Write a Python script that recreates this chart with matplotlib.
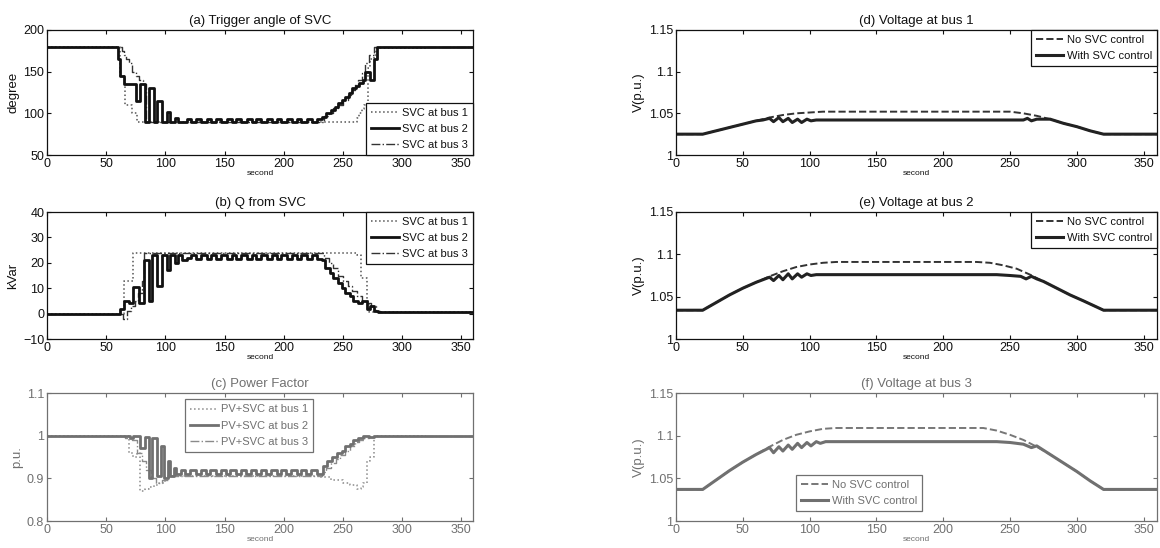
import matplotlib
matplotlib.use("Agg")
import matplotlib.pyplot as plt

plt.rcParams['font.family'] = ['Liberation Sans', 'DejaVu Sans']

# ---------------- data ----------------
# (a) Trigger angle of SVC (degree), step data
a_bus1_t = [0, 62, 66, 72, 76, 262, 264, 266, 268, 271, 273, 276, 278, 320]
a_bus1_v = [180, 145, 110, 100, 90, 95, 100, 105, 110, 155, 165, 170, 178, 178]
a_bus2_t = [0, 60, 62, 65, 75, 79, 83, 86, 90, 93, 97, 101, 104, 108, 111, 118, 122, 126, 130, 135,
            139, 143, 147, 152, 156, 160, 164, 169, 173, 177, 181, 186, 190, 194, 198, 203, 207, 211, 215, 220,
            224, 228, 232, 236, 240, 243, 246, 249, 252, 255, 258, 261, 264, 267, 269, 273, 276, 279, 360]
a_bus2_v = [180, 165, 145, 135, 115, 135, 90, 130, 90, 115, 90, 102, 90, 95, 90, 93, 90, 93, 90, 93,
            90, 93, 90, 93, 90, 93, 90, 93, 90, 93, 90, 93, 90, 93, 90, 93, 90, 93, 90, 93,
            90, 93, 96, 100, 104, 108, 112, 116, 120, 125, 130, 133, 137, 140, 150, 140, 165, 180, 180]
a_bus3_t = [0, 63, 65, 67, 69, 72, 75, 78, 81, 84, 234, 238, 242, 246, 250, 254, 257, 260, 263, 266, 269, 272, 276, 360]
a_bus3_v = [180, 175, 170, 165, 160, 150, 145, 140, 135, 90, 97, 101, 106, 110, 116, 122, 128, 134, 140, 148, 160, 170, 180, 180]

# (b) Q from SVC (kVar)
b_bus1_t = [0, 65, 73, 262, 265, 270, 272, 360]
b_bus1_v = [0, 13, 24, 23, 14, 5, 0.5, 0.5]
b_bus2_t = [0, 62, 65, 69, 73, 78, 82, 86, 89, 93, 97, 101, 104, 108, 111, 114, 118, 122, 126, 130,
            135, 139, 143, 147, 152, 156, 160, 164, 169, 173, 177, 181, 186, 190, 194, 198, 203, 207, 211, 215,
            220, 224, 228, 232, 235, 239, 242, 246, 249, 252, 256, 259, 263, 266, 270, 273, 276, 280, 360]
b_bus2_v = [0, 2, 5, 4, 10.5, 4, 21, 5, 23, 11, 23, 17, 23, 20, 23, 21, 22, 23, 21.5, 23,
            21.5, 23, 21.5, 23, 21.5, 23, 21.5, 23, 21.5, 23, 21.5, 23, 21.5, 23, 21.5, 23, 21.5, 23, 21.5, 23,
            21.5, 23, 21.5, 21, 18, 16, 14, 12, 10, 8, 7, 5, 4, 5, 2, 3, 1, 0.5, 0.5]
b_bus3_t = [0, 64, 68, 71, 74, 77, 80, 82, 234, 238, 242, 246, 250, 254, 258, 262, 266, 270, 274, 278, 281, 360]
b_bus3_v = [0, -2, 1, 3, 5, 8, 13, 24, 22, 20, 18, 15, 13, 11, 9, 7, 5, 4, 3, 1, 0.5, 0.5]

# (c) Power factor (p.u.)
c_bus1_t = [0, 69, 73, 76, 79, 83, 86, 90, 95, 100, 230, 240, 250, 256, 262, 265, 267, 270, 273, 276, 320]
c_bus1_v = [1.0, 0.96, 0.95, 0.96, 0.87, 0.875, 0.88, 0.885, 0.89, 0.905, 0.903, 0.897, 0.89, 0.884, 0.876,
            0.88, 0.89, 0.94, 0.95, 1.0, 1.0]
c_bus2_t = [0, 70, 73, 79, 83, 86, 89, 93, 96, 99, 102, 104, 107, 109, 113, 117, 121, 126, 130, 134,
            138, 143, 147, 151, 155, 160, 164, 168, 172, 177, 181, 185, 189, 194, 198, 202, 206, 211, 215, 219,
            223, 228, 233, 237, 241, 245, 249, 252, 256, 259, 263, 267, 272, 276, 280, 360]
c_bus2_v = [1.0, 0.995, 1.0, 0.97, 0.998, 0.90, 0.995, 0.905, 0.975, 0.90, 0.94, 0.905, 0.925, 0.91, 0.92, 0.91, 0.92, 0.91, 0.92, 0.91,
            0.92, 0.91, 0.92, 0.91, 0.92, 0.91, 0.92, 0.91, 0.92, 0.91, 0.92, 0.91, 0.92, 0.91, 0.92, 0.91, 0.92, 0.91, 0.92, 0.91,
            0.92, 0.91, 0.93, 0.94, 0.95, 0.96, 0.965, 0.975, 0.98, 0.99, 0.995, 1.0, 0.997, 1.0, 1.0, 1.0]
c_bus3_t = [0, 66, 72, 76, 80, 84, 88, 92, 97, 102, 232, 236, 240, 244, 248, 252, 256, 260, 264, 268, 272, 276, 360]
c_bus3_v = [1.0, 0.995, 0.99, 0.96, 0.94, 0.92, 0.90, 0.89, 0.895, 0.905, 0.915, 0.925, 0.935, 0.945, 0.955,
            0.965, 0.975, 0.985, 0.99, 0.995, 0.998, 1.0, 1.0]

# (d) Voltage at bus 1
d_no_t = [0, 20, 30, 40, 50, 60, 70, 80, 90, 100, 110, 250, 260, 270, 280, 290, 300, 310, 320, 360]
d_no_v = [1.025, 1.025, 1.029, 1.033, 1.037, 1.041, 1.045, 1.048, 1.050, 1.051, 1.052, 1.052, 1.050, 1.047,
          1.043, 1.038, 1.034, 1.029, 1.025, 1.025]
d_svc_t = [0, 20, 30, 40, 50, 60, 65, 70, 73, 77, 80, 84, 87, 91, 94, 98, 101, 105, 260, 263, 266, 270,
           280, 290, 300, 310, 320, 360]
d_svc_v = [1.025, 1.025, 1.029, 1.033, 1.037, 1.041, 1.042, 1.044, 1.040, 1.045, 1.040, 1.044, 1.039, 1.043,
           1.039, 1.043, 1.041, 1.042, 1.042, 1.044, 1.041, 1.043, 1.043, 1.038, 1.034, 1.029, 1.025, 1.025]

# (e) Voltage at bus 2
e_no_t = [0, 20, 30, 40, 50, 60, 70, 80, 90, 100, 110, 120, 225, 235, 245, 255, 265, 275, 285, 295, 305, 320, 360]
e_no_v = [1.034, 1.034, 1.043, 1.052, 1.060, 1.067, 1.074, 1.080, 1.085, 1.088, 1.090, 1.091, 1.091, 1.090,
          1.087, 1.083, 1.076, 1.068, 1.060, 1.052, 1.045, 1.034, 1.034]
e_svc_t = [0, 20, 30, 40, 50, 60, 65, 70, 73, 77, 80, 84, 87, 91, 94, 98, 101, 105, 240, 250, 258, 262, 266,
           270, 275, 285, 295, 305, 320, 360]
e_svc_v = [1.034, 1.034, 1.043, 1.052, 1.060, 1.067, 1.070, 1.073, 1.069, 1.075, 1.070, 1.077, 1.071, 1.077,
           1.073, 1.077, 1.075, 1.076, 1.076, 1.075, 1.074, 1.071, 1.074, 1.071, 1.068, 1.060, 1.052, 1.045,
           1.034, 1.034]

# (f) Voltage at bus 3
f_no_t = [0, 20, 30, 40, 50, 60, 70, 80, 90, 100, 110, 120, 230, 240, 250, 260, 270, 280, 290, 300, 310, 320, 360]
f_no_v = [1.037, 1.037, 1.048, 1.059, 1.069, 1.078, 1.087, 1.095, 1.101, 1.105, 1.108, 1.109, 1.109, 1.106,
          1.101, 1.095, 1.087, 1.078, 1.068, 1.058, 1.047, 1.037, 1.037]
f_svc_t = [0, 20, 30, 40, 50, 60, 65, 70, 73, 77, 80, 84, 87, 91, 94, 98, 101, 105, 108, 112, 240, 250, 260,
           266, 270, 275, 280, 290, 300, 310, 320, 360]
f_svc_v = [1.037, 1.037, 1.048, 1.059, 1.069, 1.078, 1.082, 1.086, 1.080, 1.087, 1.082, 1.089, 1.084, 1.091,
           1.086, 1.092, 1.088, 1.093, 1.091, 1.093, 1.093, 1.092, 1.090, 1.086, 1.088, 1.083, 1.078, 1.068,
           1.058, 1.047, 1.037, 1.037]

x_ticks = [0, 50, 100, 150, 200, 250, 300, 350]
a_yticks = [50, 100, 150, 200]
b_yticks = [-10, 0, 10, 20, 30, 40]
c_yticks = [0.8, 0.9, 1.0, 1.1]
c_ylabels = ['0.8', '0.9', '1', '1.1']
v_yticks = [1.0, 1.05, 1.1, 1.15]
v_ylabels = ['1', '1.05', '1.1', '1.15']

svc_labels = ['SVC at bus 1', 'SVC at bus 2', 'SVC at bus 3']
pf_labels = ['PV+SVC at bus 1', 'PV+SVC at bus 2', 'PV+SVC at bus 3']
v_labels = ['No SVC control', 'With SVC control']

# ---------------- figure ----------------
W, H = 1160, 548
fig = plt.figure(figsize=(W / 100, H / 100), dpi=100)


def ax_at(x0, y0, x1, y1):
    return fig.add_axes([x0 / W, 1 - y1 / H, (x1 - x0) / W, (y1 - y0) / H])


def style(ax, col, title, ylabel, yticks, ylabels=None):
    ax.set_xlim(0, 360)
    ax.set_xticks(x_ticks)
    ax.set_yticks(yticks)
    if ylabels is not None:
        ax.set_yticklabels(ylabels)
    ax.set_ylim(yticks[0], yticks[-1])
    ax.tick_params(direction='in', top=True, right=True, length=3, width=0.8,
                   labelsize=9, colors=col, pad=2)
    for s in ax.spines.values():
        s.set_color(col)
        s.set_linewidth(0.9)
    ax.set_title(title, fontsize=9.5, color=col, pad=4)
    ax.set_ylabel(ylabel, fontsize=9.5, color=col, labelpad=3)
    ax.set_xlabel('second', fontsize=6, color=col, labelpad=0)


def legend(ax, handles, labels, col, **kw):
    lg = ax.legend(handles, labels, fontsize=8, frameon=True, fancybox=False,
                   edgecolor=col, framealpha=1, handlelength=2.5, handletextpad=0.3,
                   borderpad=0.45, labelspacing=0.55, **kw)
    lg.get_frame().set_linewidth(0.9)
    for t in lg.get_texts():
        t.set_color(col)
    return lg


black = '#111111'
gray = '#707070'

# (a)
ax = ax_at(47, 30, 473, 155)
h1, = ax.step(a_bus1_t, a_bus1_v, where='post', color='#555555', lw=1.1, ls=':')
h3, = ax.step(a_bus3_t, a_bus3_v, where='post', color='#333333', lw=1.0, ls='-.')
h2, = ax.step(a_bus2_t, a_bus2_v, where='post', color=black, lw=2.0)
style(ax, black, '(a) Trigger angle of SVC', 'degree', a_yticks)
legend(ax, [h1, h2, h3], svc_labels, black, loc='lower right', borderaxespad=0)

# (b)
ax = ax_at(47, 212, 473, 339)
h1, = ax.step(b_bus1_t, b_bus1_v, where='post', color='#555555', lw=1.1, ls=':')
h3, = ax.step(b_bus3_t, b_bus3_v, where='post', color='#333333', lw=1.0, ls='-.')
h2, = ax.step(b_bus2_t, b_bus2_v, where='post', color=black, lw=2.0)
style(ax, black, '(b) Q from SVC', 'kVar', b_yticks)
legend(ax, [h1, h2, h3], svc_labels, black, loc='upper right', borderaxespad=0)

# (c)
ax = ax_at(47, 393, 473, 521)
h1, = ax.step(c_bus1_t, c_bus1_v, where='post', color='#8a8a8a', lw=1.1, ls=':')
h3, = ax.step(c_bus3_t, c_bus3_v, where='post', color='#8a8a8a', lw=1.0, ls='-.')
h2, = ax.step(c_bus2_t, c_bus2_v, where='post', color=gray, lw=2.0)
style(ax, gray, '(c) Power Factor', 'p.u.', c_yticks, c_ylabels)
legend(ax, [h1, h2, h3], pf_labels, gray, loc='upper center',
       bbox_to_anchor=(0.475, 0.95), borderaxespad=0)

# (d)
ax = ax_at(676, 30, 1157, 155)
hn, = ax.plot(d_no_t, d_no_v, color='#333333', lw=1.4, ls='--')
hs, = ax.plot(d_svc_t, d_svc_v, color='#222222', lw=2.2)
style(ax, black, '(d) Voltage at bus 1', 'V(p.u.)', v_yticks, v_ylabels)
legend(ax, [hn, hs], v_labels, black, loc='upper right', borderaxespad=0)

# (e)
ax = ax_at(676, 212, 1157, 339)
hn, = ax.plot(e_no_t, e_no_v, color='#333333', lw=1.4, ls='--')
hs, = ax.plot(e_svc_t, e_svc_v, color='#222222', lw=2.2)
style(ax, black, '(e) Voltage at bus 2', 'V(p.u.)', v_yticks, v_ylabels)
legend(ax, [hn, hs], v_labels, black, loc='upper right', borderaxespad=0)

# (f)
ax = ax_at(676, 393, 1157, 521)
hn, = ax.plot(f_no_t, f_no_v, color='#777777', lw=1.4, ls='--')
hs, = ax.plot(f_svc_t, f_svc_v, color=gray, lw=2.2)
style(ax, gray, '(f) Voltage at bus 3', 'V(p.u.)', v_yticks, v_ylabels)
legend(ax, [hn, hs], v_labels, gray, loc='lower center',
       bbox_to_anchor=(0.38, 0.08), borderaxespad=0)

fig.savefig('out.png', dpi=100)
